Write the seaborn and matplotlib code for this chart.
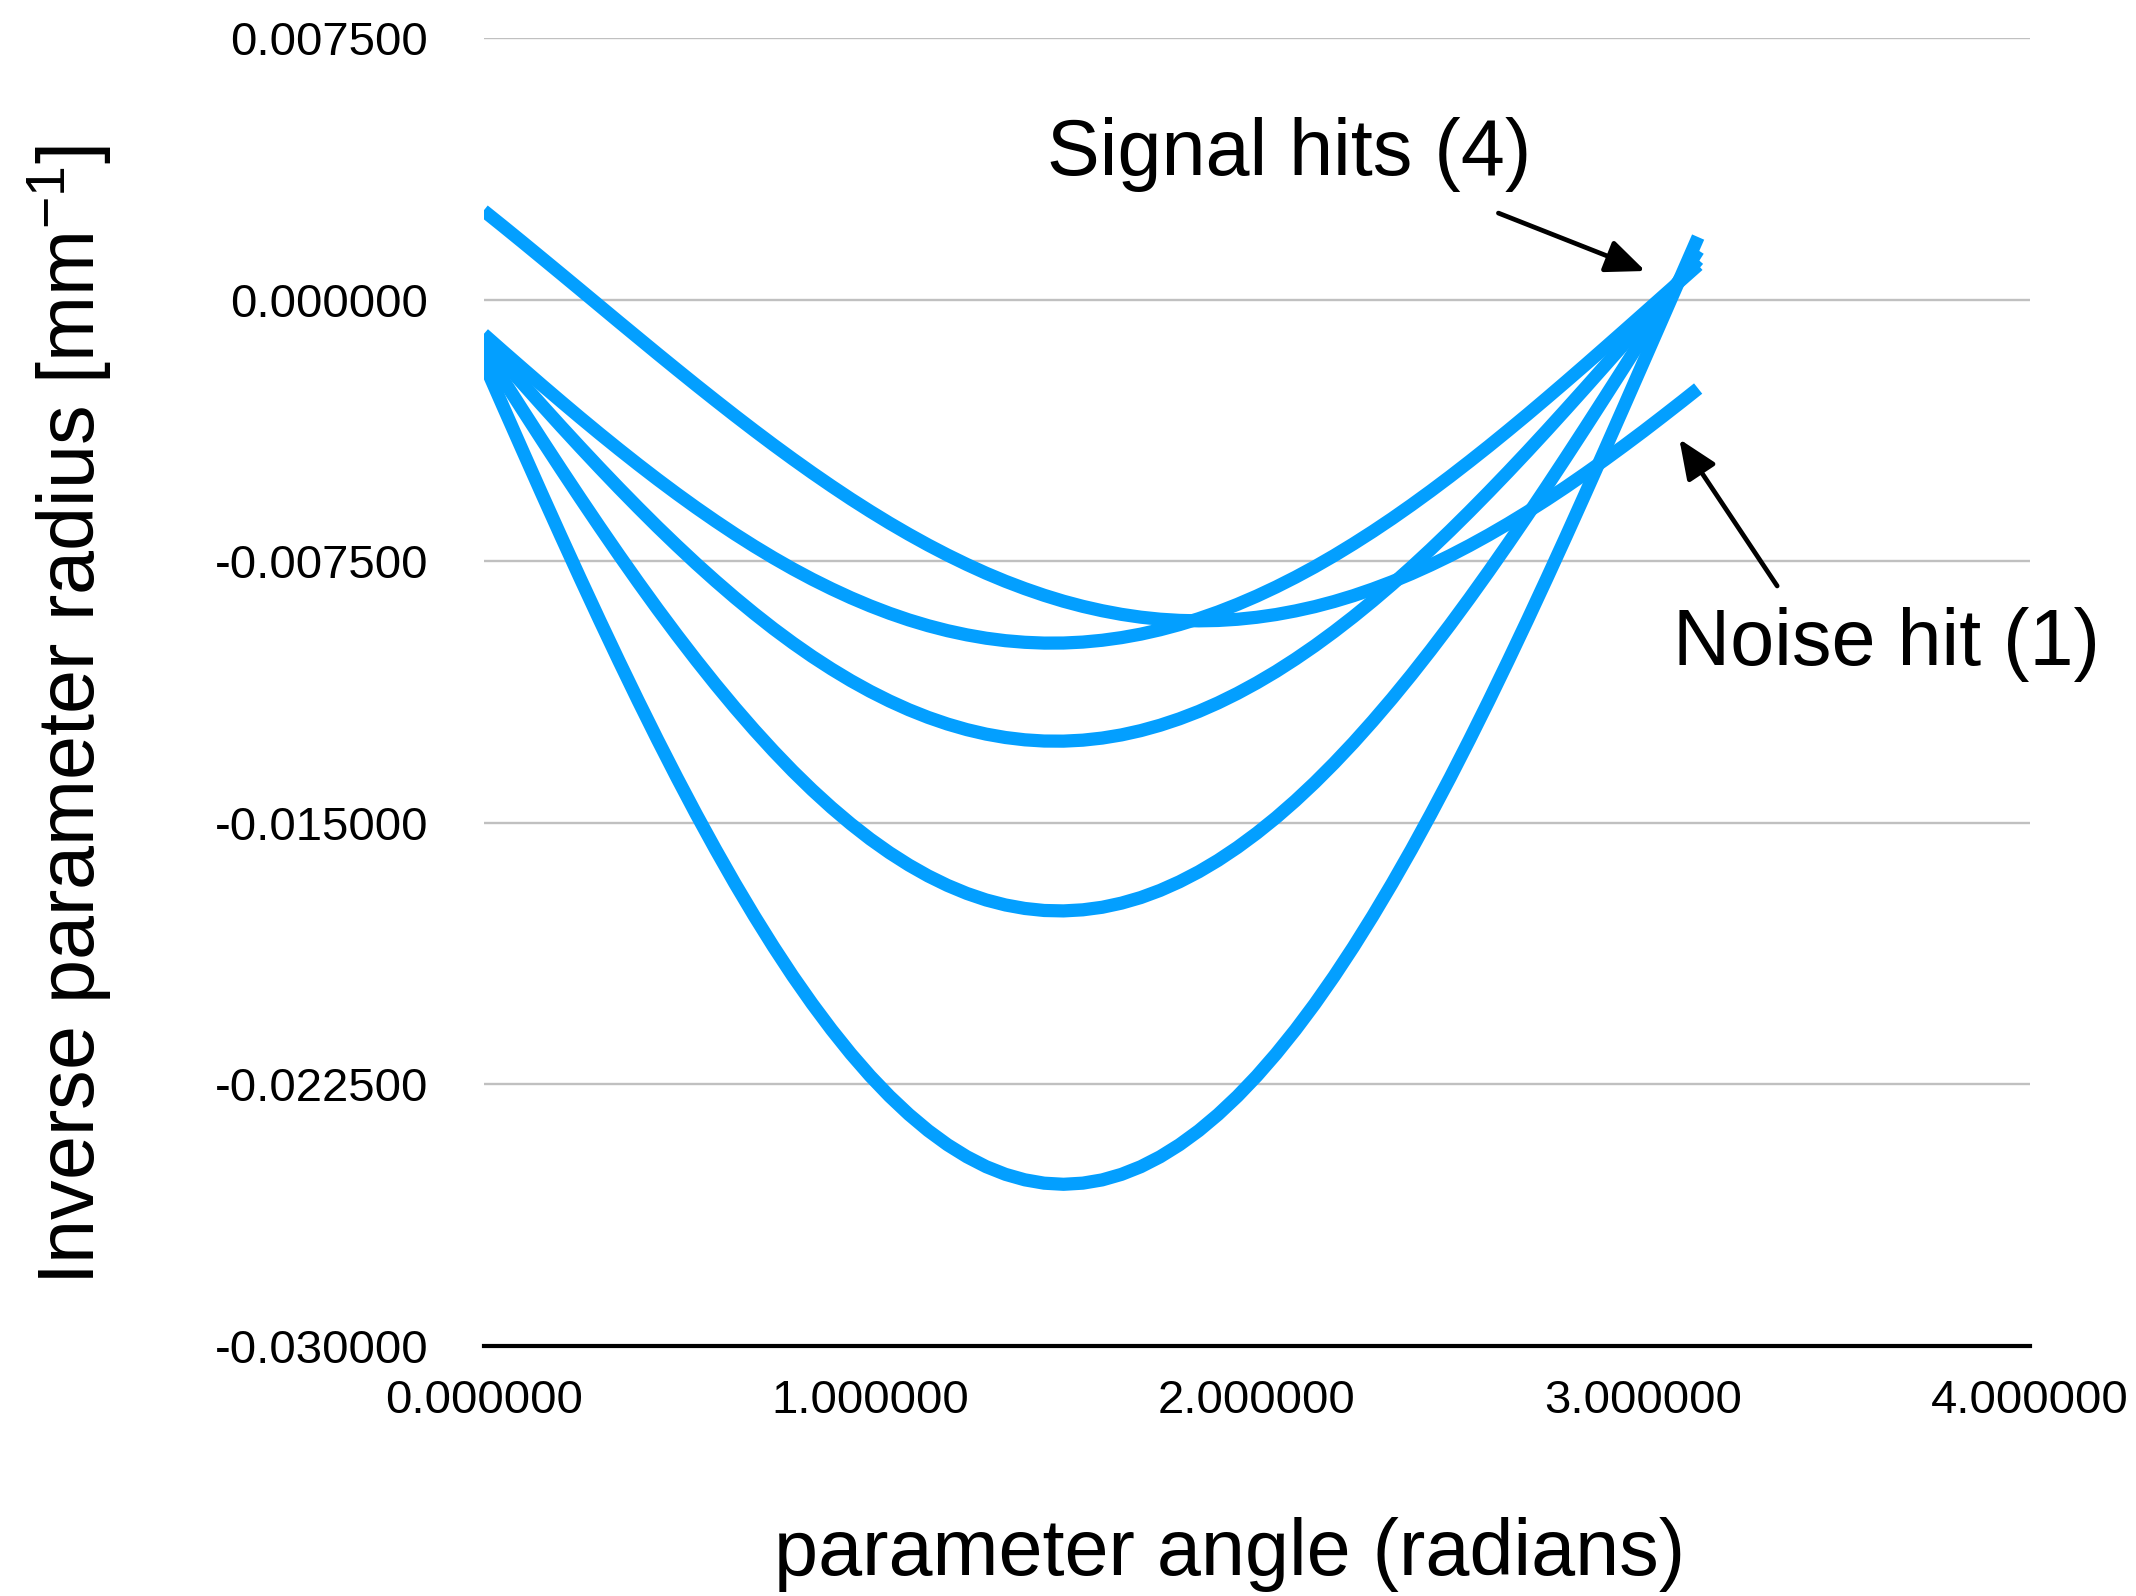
import numpy as np
import pandas as pd
import matplotlib
matplotlib.use("Agg")
import matplotlib.pyplot as plt
import seaborn as sns

# ---- data ----
# theta in radians; curve values in units of 1e-3 mm^-1
theta = [0.00, 0.05, 0.10, 0.15, 0.20, 0.25, 0.30, 0.35, 0.40, 0.45,
         0.50, 0.55, 0.60, 0.65, 0.70, 0.75, 0.80, 0.85, 0.90, 0.95,
         1.00, 1.05, 1.10, 1.15, 1.20, 1.25, 1.30, 1.35, 1.40, 1.45,
         1.50, 1.55, 1.60, 1.65, 1.70, 1.75, 1.80, 1.85, 1.90, 1.95,
         2.00, 2.05, 2.10, 2.15, 2.20, 2.25, 2.30, 2.35, 2.40, 2.45,
         2.50, 2.55, 2.60, 2.65, 2.70, 2.75, 2.80, 2.85, 2.90, 2.95,
         3.00, 3.05, 3.10, 3.1416]

noise_hit = [2.550, 2.105, 1.654, 1.198, 0.741, 0.282, -0.179, -0.640, -1.097, -1.554,
             -2.005, -2.452, -2.892, -3.326, -3.751, -4.167, -4.572, -4.966, -5.347, -5.716,
             -6.069, -6.408, -6.730, -7.036, -7.324, -7.594, -7.846, -8.077, -8.287, -8.478,
             -8.648, -8.795, -8.920, -9.024, -9.105, -9.163, -9.197, -9.210, -9.199, -9.165,
             -9.108, -9.029, -8.926, -8.803, -8.656, -8.488, -8.298, -8.089, -7.858, -7.608,
             -7.340, -7.052, -6.747, -6.425, -6.087, -5.735, -5.368, -4.986, -4.593, -4.188,
             -3.774, -3.348, -2.916, -2.550]

signal_a = [-0.991, -1.480, -1.964, -2.445, -2.918, -3.385, -3.843, -4.291, -4.729, -5.155,
            -5.568, -5.967, -6.351, -6.720, -7.071, -7.405, -7.721, -8.017, -8.292, -8.548,
            -8.782, -8.994, -9.184, -9.350, -9.493, -9.612, -9.708, -9.779, -9.825, -9.848,
            -9.846, -9.819, -9.767, -9.691, -9.591, -9.466, -9.318, -9.148, -8.954, -8.737,
            -8.499, -8.239, -7.959, -7.660, -7.340, -7.002, -6.648, -6.277, -5.889, -5.487,
            -5.071, -4.642, -4.203, -3.752, -3.293, -2.824, -2.349, -1.868, -1.382, -0.893,
            -0.402, 0.091, 0.582, 0.991]

signal_b = [-1.148, -1.777, -2.400, -3.019, -3.631, -4.232, -4.823, -5.402, -5.967, -6.519,
            -7.052, -7.570, -8.067, -8.545, -9.001, -9.436, -9.846, -10.232, -10.591, -10.925,
            -11.231, -11.509, -11.759, -11.979, -12.169, -12.329, -12.458, -12.555, -12.621, -12.656,
            -12.659, -12.631, -12.571, -12.480, -12.357, -12.203, -12.019, -11.806, -11.562, -11.289,
            -10.988, -10.661, -10.305, -9.925, -9.519, -9.090, -8.638, -8.165, -7.671, -7.158,
            -6.627, -6.079, -5.516, -4.940, -4.352, -3.752, -3.142, -2.525, -1.901, -1.274,
            -0.642, -0.010, 0.622, 1.148]

signal_c = [-1.415, -2.286, -3.152, -4.010, -4.858, -5.693, -6.514, -7.319, -8.106, -8.873,
            -9.617, -10.337, -11.032, -11.699, -12.336, -12.943, -13.519, -14.059, -14.564, -15.033,
            -15.466, -15.858, -16.211, -16.524, -16.795, -17.025, -17.213, -17.356, -17.456, -17.514,
            -17.526, -17.495, -17.422, -17.303, -17.143, -16.938, -16.691, -16.404, -16.075, -15.705,
            -15.296, -14.850, -14.366, -13.846, -13.291, -12.704, -12.084, -11.436, -10.758, -10.052,
            -9.322, -8.568, -7.793, -6.999, -6.188, -5.360, -4.519, -3.667, -2.805, -1.938,
            -1.064, -0.189, 0.687, 1.415]

signal_d = [-1.793, -3.056, -4.309, -5.554, -6.784, -7.996, -9.189, -10.359, -11.504, -12.620,
            -13.703, -14.753, -15.764, -16.738, -17.669, -18.557, -19.399, -20.190, -20.932, -21.623,
            -22.259, -22.838, -23.360, -23.825, -24.230, -24.574, -24.859, -25.079, -25.236, -25.332,
            -25.364, -25.331, -25.238, -25.079, -24.859, -24.575, -24.230, -23.826, -23.361, -22.839,
            -22.259, -21.623, -20.934, -20.193, -19.400, -18.559, -17.671, -16.740, -15.768, -14.754,
            -13.706, -12.621, -11.506, -10.361, -9.192, -7.999, -6.787, -5.556, -4.311, -3.058,
            -1.795, -0.529, 0.739, 1.793]

curve_names = ["noise", "signal A", "signal B", "signal C", "signal D"]
y_ticks = [-0.030, -0.0225, -0.015, -0.0075, 0.0, 0.0075]
x_ticks = [0.0, 1.0, 2.0, 3.0, 4.0]

series = [noise_hit, signal_a, signal_b, signal_c, signal_d]
df = pd.concat(
    [pd.DataFrame({"theta": theta, "r": np.array(vals) * 1e-3, "curve": name})
     for name, vals in zip(curve_names, series)],
    ignore_index=True)

# ---- styling ----
sns.set_theme(style="white")
plt.rcParams["font.family"] = ["Liberation Sans", "DejaVu Sans"]
plt.rcParams["axes.unicode_minus"] = False
plt.rcParams["mathtext.default"] = "regular"
for k in ["text.color", "axes.labelcolor", "xtick.color", "ytick.color"]:
    plt.rcParams[k] = "black"

W, H, DPI = 2136, 1596, 100
fig = plt.figure(figsize=(W / DPI, H / DPI), dpi=DPI)
ax = fig.add_axes([483.6 / W, 1 - 1346 / H, (2030 - 483.6) / W, (1346 - 38) / H])

blue = "#039FFF"
sns.lineplot(data=df, x="theta", y="r", units="curve", estimator=None,
             color=blue, linewidth=9.5, ax=ax, legend=False, sort=False,
             solid_capstyle="butt", solid_joinstyle="round")

ax.set_xlim(0, 4)
ax.set_ylim(-0.030, 0.0075)
ax.set_xticks(x_ticks)
ax.set_yticks(y_ticks)
ax.set_xticklabels([f"{v:.6f}" for v in x_ticks])
ax.set_yticklabels([f"{v:.6f}" for v in y_ticks])
ax.tick_params(axis="y", length=0, pad=40, labelsize=34, labelcolor="black")
ax.tick_params(axis="x", length=0, pad=24, labelsize=34, labelcolor="black")

ax.yaxis.grid(True, color="#C0C0C0", linewidth=1.7)
ax.xaxis.grid(False)
ax.set_axisbelow(True)
for s in ["left", "right", "top"]:
    ax.spines[s].set_visible(False)
ax.spines["bottom"].set_color("black")
ax.spines["bottom"].set_linewidth(3.0)
ax.set_xlabel("")
ax.set_ylabel("")

fig.text(70 / W, 1 - 715 / H, "Inverse parameter radius [mm$^{-1}$]",
         rotation=90, ha="center", va="center", fontsize=57, color="black")
fig.text(1230 / W, 1 - 1555 / H, "parameter angle (radians)",
         ha="center", va="center", fontsize=57, color="black")

# annotations
ax.text(2.084, 0.00415, "Signal hits (4)", ha="center", va="center", fontsize=57,
        color="black")
ax.text(3.628, -0.0099, "Noise hit (1)", ha="center", va="center", fontsize=57,
        color="black", clip_on=False)
arrow_kw = dict(arrowstyle="-|>,head_length=2.0,head_width=0.85", color="black",
                lw=3.4, shrinkA=0, shrinkB=0)
ax.annotate("", xy=(3.005, 0.00082), xytext=(2.625, 0.00248), arrowprops=arrow_kw)
ax.annotate("", xy=(3.093, -0.0040), xytext=(3.346, -0.00821), arrowprops=arrow_kw)

fig.savefig("out.png", dpi=DPI)
